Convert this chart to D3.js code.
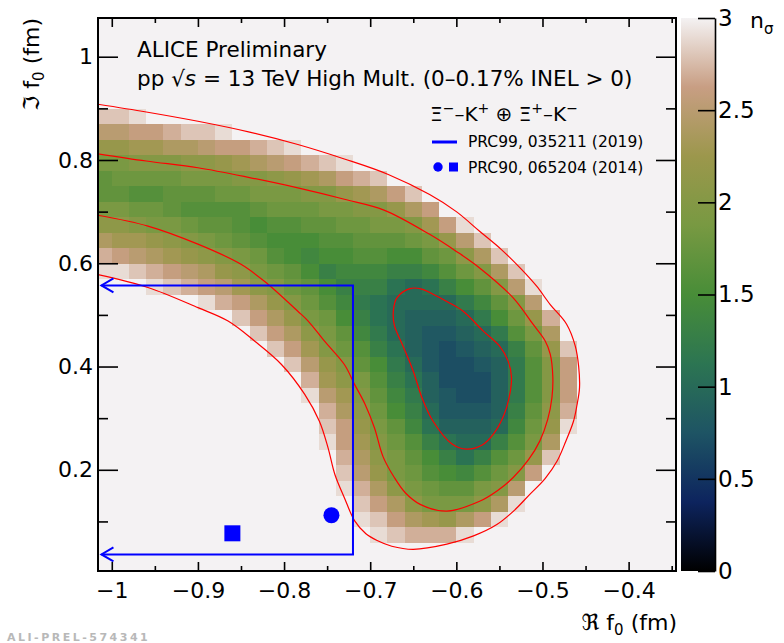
<!DOCTYPE html>
<html>
<head>
<meta charset="utf-8">
<script src="https://cdn.jsdelivr.net/npm/d3@7/dist/d3.min.js"></script>
<style>
html,body{margin:0;padding:0;background:#ffffff;}
svg{display:block;}
text{font-family:"DejaVu Sans","Liberation Sans",sans-serif;}
</style>
</head>
<body>
<svg id="chart" width="784" height="643"></svg>
<script>
// ---------------- DATA ----------------
// bin centres of the n_sigma map
const reCenters = [-1.01,-0.99,-0.97,-0.95,-0.93,-0.91,-0.89,-0.87,-0.85,-0.83,-0.81,-0.79,-0.77,-0.75,-0.73,-0.71,-0.69,-0.67,-0.65,-0.63,-0.61,-0.59,-0.57,-0.55,-0.53,-0.51,-0.49,-0.47,-0.45,-0.43,-0.41,-0.39,-0.37,-0.35];
const imCenters = [0.015,0.045,0.075,0.105,0.135,0.165,0.195,0.225,0.255,0.285,0.315,0.345,0.375,0.405,0.435,0.465,0.495,0.525,0.555,0.585,0.615,0.645,0.675,0.705,0.735,0.765,0.795,0.825,0.855,0.885,0.915,0.945,0.975,1.005,1.035,1.065];
// n_sigma values (rows follow imCenters, columns follow reCenters), clipped at 3
const nSigma = [
[3,3,3,3,3,3,3,3,3,3, 3,3,3,3,3,3,3,3,3,3, 3,3,3,3,3,3,3,3,3,3, 3,3,3,3],
[3,3,3,3,3,3,3,3,3,3, 3,3,3,3,3,3,3,3,3,3, 3,3,3,3,3,3,3,3,3,3, 3,3,3,3],
[3,3,3,3,3,3,3,3,3,3, 3,3,3,3,3,3,2.9,2.8,2.7,2.7, 2.7,2.9,3,3,3,3,3,3,3,3, 3,3,3,3],
[3,3,3,3,3,3,3,3,3,3, 3,3,3,3,3,2.9,2.8,2.6,2.4,2.3, 2.2,2.4,2.6,2.9,3,3,3,3,3,3, 3,3,3,3],
[3,3,3,3,3,3,3,3,3,3, 3,3,3,3,3,2.8,2.6,2.4,2.1,1.9, 1.9,1.9,2.1,2.4,2.9,3,3,3,3,3, 3,3,3,3],
[3,3,3,3,3,3,3,3,3,3, 3,3,3,3,2.9,2.7,2.4,2.1,1.9,1.8, 1.7,1.7,1.9,2.0,2.5,3,3,3,3,3, 3,3,3,3],
[3,3,3,3,3,3,3,3,3,3, 3,3,3,3,2.8,2.5,2.2,1.9,1.8,1.6, 1.5,1.4,1.6,1.8,2.0,2.6,3,3,3,3, 3,3,3,3],
[3,3,3,3,3,3,3,3,3,3, 3,3,3,3,2.7,2.4,2.1,1.9,1.7,1.5, 1.3,1.1,1.3,1.6,1.8,2.2,2.8,3,3,3, 3,3,3,3],
[3,3,3,3,3,3,3,3,3,3, 3,3,3,2.9,2.6,2.3,2.0,1.8,1.6,1.3, 1.1,1.0,1.0,1.3,1.6,1.9,2.4,3,3,3, 3,3,3,3],
[3,3,3,3,3,3,3,3,3,3, 3,3,3,2.8,2.6,2.2,1.9,1.7,1.4,1.1, 0.9,0.9,0.9,1.0,1.4,1.8,2.2,2.9,3,3, 3,3,3,3],
[3,3,3,3,3,3,3,3,3,3, 3,3,3,2.7,2.4,2.1,1.8,1.5,1.3,1.0, 0.8,0.8,0.8,0.9,1.3,1.7,2.1,2.7,3,3, 3,3,3,3],
[3,3,3,3,3,3,3,3,3,3, 3,3,2.9,2.5,2.3,2.0,1.7,1.4,1.2,0.9, 0.8,0.7,0.7,0.9,1.2,1.6,2.0,2.6,3,3, 3,3,3,3],
[3,3,3,3,3,3,3,3,3,3, 3,3,2.7,2.3,2.1,1.9,1.6,1.3,1.1,0.9, 0.7,0.7,0.7,0.9,1.2,1.6,2.0,2.6,3,3, 3,3,3,3],
[3,3,3,3,3,3,3,3,3,3, 3,2.8,2.5,2.2,2.0,1.7,1.5,1.2,1.0,0.8, 0.7,0.7,0.8,0.9,1.2,1.6,2.0,2.6,3,3, 3,3,3,3],
[3,3,3,3,3,3,3,3,3,3, 2.8,2.6,2.3,2.0,1.8,1.6,1.3,1.1,0.9,0.8, 0.7,0.8,0.9,1.0,1.3,1.7,2.2,2.8,3,3, 3,3,3,3],
[3,3,3,3,3,3,3,3,3,2.8, 2.6,2.4,2.1,1.9,1.7,1.4,1.2,1.0,0.9,0.8, 0.8,0.9,1.0,1.2,1.6,1.9,2.4,3,3,3, 3,3,3,3],
[3,3,3,3,3,3,3,3,2.8,2.6, 2.4,2.2,1.9,1.8,1.5,1.3,1.1,1.0,0.9,0.9, 0.9,1.0,1.2,1.5,1.8,2.2,2.7,3,3,3, 3,3,3,3],
[3,3,3,3,3,3,2.9,2.7,2.6,2.4, 2.2,2.0,1.8,1.6,1.4,1.2,1.1,1.0,1.0,1.0, 1.0,1.2,1.4,1.7,2.0,2.5,3,3,3,3, 3,3,3,3],
[3,3,3,2.9,2.8,2.7,2.6,2.5,2.3,2.1, 2.0,1.8,1.7,1.5,1.3,1.3,1.3,1.1,1.0,1.1, 1.3,1.5,1.7,2.0,2.5,2.9,3,3,3,3, 3,3,3,3],
[2.9,2.9,2.8,2.7,2.6,2.5,2.4,2.2,2.1,1.9, 1.8,1.7,1.5,1.3,1.4,1.4,1.4,1.3,1.3,1.4, 1.6,1.8,2.0,2.4,2.8,3,3,3,3,3, 3,3,3,3],
[2.7,2.6,2.5,2.4,2.3,2.2,2.1,2.0,1.9,1.8, 1.6,1.5,1.4,1.5,1.5,1.6,1.6,1.5,1.5,1.7, 1.8,2.1,2.4,2.8,3,3,3,3,3,3, 3,3,3,3],
[2.4,2.3,2.3,2.2,2.1,2.0,1.9,1.8,1.7,1.6, 1.5,1.5,1.5,1.6,1.6,1.7,1.7,1.7,1.8,1.9, 2.2,2.5,2.8,3,3,3,3,3,3,3, 3,3,3,3],
[2.1,2.1,2.0,1.9,1.9,1.8,1.7,1.7,1.6,1.5, 1.6,1.6,1.7,1.7,1.8,1.8,1.9,1.9,2.0,2.3, 2.6,2.9,3,3,3,3,3,3,3,3, 3,3,3,3],
[1.9,1.9,1.8,1.8,1.7,1.6,1.6,1.6,1.6,1.7, 1.8,1.8,1.8,1.9,1.9,2.0,2.0,2.2,2.4,2.6, 3,3,3,3,3,3,3,3,3,3, 3,3,3,3],
[1.7,1.7,1.6,1.6,1.7,1.7,1.7,1.8,1.8,1.9, 1.9,1.9,2.0,2.0,2.2,2.3,2.4,2.6,2.8,3, 3,3,3,3,3,3,3,3,3,3, 3,3,3,3],
[1.7,1.8,1.8,1.8,1.8,1.9,1.9,1.9,2.0,2.0, 2.1,2.2,2.3,2.4,2.6,2.7,2.8,3,3,3, 3,3,3,3,3,3,3,3,3,3, 3,3,3,3],
[1.9,1.9,2.0,2.0,2.0,2.1,2.1,2.2,2.3,2.4, 2.5,2.6,2.7,2.8,2.9,3,3,3,3,3, 3,3,3,3,3,3,3,3,3,3, 3,3,3,3],
[2.2,2.2,2.3,2.3,2.4,2.4,2.5,2.6,2.6,2.7, 2.8,2.9,3,3,3,3,3,3,3,3, 3,3,3,3,3,3,3,3,3,3, 3,3,3,3],
[2.5,2.5,2.6,2.6,2.7,2.8,2.8,2.9,3,3, 3,3,3,3,3,3,3,3,3,3, 3,3,3,3,3,3,3,3,3,3, 3,3,3,3],
[2.8,2.8,2.9,3,3,3,3,3,3,3, 3,3,3,3,3,3,3,3,3,3, 3,3,3,3,3,3,3,3,3,3, 3,3,3,3],
[3,3,3,3,3,3,3,3,3,3, 3,3,3,3,3,3,3,3,3,3, 3,3,3,3,3,3,3,3,3,3, 3,3,3,3],
[3,3,3,3,3,3,3,3,3,3, 3,3,3,3,3,3,3,3,3,3, 3,3,3,3,3,3,3,3,3,3, 3,3,3,3],
[3,3,3,3,3,3,3,3,3,3, 3,3,3,3,3,3,3,3,3,3, 3,3,3,3,3,3,3,3,3,3, 3,3,3,3],
[3,3,3,3,3,3,3,3,3,3, 3,3,3,3,3,3,3,3,3,3, 3,3,3,3,3,3,3,3,3,3, 3,3,3,3],
[3,3,3,3,3,3,3,3,3,3, 3,3,3,3,3,3,3,3,3,3, 3,3,3,3,3,3,3,3,3,3, 3,3,3,3],
[3,3,3,3,3,3,3,3,3,3, 3,3,3,3,3,3,3,3,3,3, 3,3,3,3,3,3,3,3,3,3, 3,3,3,3]
];
// contour lines [Re f0, Im f0]
const contour3Sigma = [[-1.016,0.908],[-0.960,0.893],[-0.900,0.875],[-0.840,0.854],[-0.784,0.830],[-0.730,0.802],[-0.679,0.772],[-0.631,0.733],[-0.600,0.700],[-0.573,0.662],[-0.548,0.627],[-0.526,0.591],[-0.507,0.556],[-0.491,0.520],[-0.472,0.482],[-0.462,0.440],[-0.458,0.400],[-0.457,0.359],[-0.460,0.325],[-0.464,0.294],[-0.473,0.255],[-0.483,0.217],[-0.497,0.183],[-0.515,0.152],[-0.533,0.121],[-0.553,0.094],[-0.580,0.072],[-0.611,0.056],[-0.650,0.046],[-0.675,0.052],[-0.692,0.063],[-0.705,0.076],[-0.718,0.101],[-0.730,0.146],[-0.741,0.191],[-0.749,0.243],[-0.759,0.294],[-0.776,0.346],[-0.803,0.404],[-0.834,0.449],[-0.865,0.488],[-0.900,0.514],[-0.958,0.553],[-1.016,0.578]];
const contour2Sigma = [[-1.016,0.812],[-0.960,0.798],[-0.900,0.785],[-0.840,0.766],[-0.784,0.746],[-0.730,0.724],[-0.684,0.703],[-0.631,0.656],[-0.600,0.623],[-0.573,0.591],[-0.534,0.533],[-0.511,0.482],[-0.497,0.450],[-0.491,0.424],[-0.488,0.380],[-0.489,0.340],[-0.494,0.297],[-0.503,0.256],[-0.516,0.220],[-0.534,0.185],[-0.552,0.160],[-0.573,0.139],[-0.611,0.120],[-0.642,0.133],[-0.659,0.155],[-0.672,0.185],[-0.685,0.225],[-0.695,0.281],[-0.706,0.327],[-0.718,0.365],[-0.730,0.404],[-0.753,0.449],[-0.772,0.488],[-0.784,0.507],[-0.819,0.560],[-0.850,0.598],[-0.900,0.637],[-0.958,0.672],[-1.016,0.693]];
const contour1Sigma = [[-0.669,0.533],[-0.654,0.551],[-0.640,0.550],[-0.627,0.540],[-0.610,0.525],[-0.592,0.507],[-0.569,0.469],[-0.550,0.440],[-0.540,0.411],[-0.536,0.380],[-0.538,0.346],[-0.545,0.305],[-0.557,0.269],[-0.570,0.248],[-0.588,0.240],[-0.605,0.250],[-0.627,0.294],[-0.640,0.340],[-0.650,0.391],[-0.662,0.440],[-0.672,0.480],[-0.673,0.510]];
// theory predictions
const prc99ReLimit = -0.72;            // PRC99 region: Re f0 < -0.72
const prc99ImRange = [0.036, 0.557];   // Im f0 bounds of the region
const prc99ArrowRe = -1.012;
const prc90Circle = [-0.745, 0.112];
const prc90Square = [-0.860, 0.077];
// ticks
const xMajorTicks = [-1,-0.9,-0.8,-0.7,-0.6,-0.5,-0.4];
const xMinorTicks = [-0.95,-0.85,-0.75,-0.65,-0.55,-0.45,-0.35];
const yMajorTicks = [0.2,0.4,0.6,0.8,1.0];
const yMinorTicks = [0.1,0.3,0.5,0.7,0.9];
const zTicks = [0,0.5,1,1.5,2,2.5,3];
// palette (gist earth)
const paletteStops = [0,0.375,0.75,1.125,1.5,1.875,2.25,2.625,3];
const paletteColors = ["rgb(0,0,0)","rgb(13,36,94)","rgb(30,84,100)","rgb(44,117,82)","rgb(72,141,56)","rgb(120,153,66)","rgb(156,151,76)","rgb(200,158,131)","rgb(244,242,243)"];

// ---------------- DRAW ----------------
const svg = d3.select("#chart");
const plot = {left:98, right:676, top:18, bottom:571};
const x = d3.scaleLinear().domain([-1.016,-0.345]).range([plot.left, plot.right]);
const y = d3.scaleLinear().domain([0.004,1.075]).range([plot.bottom, plot.top]);
const z = d3.scaleLinear().domain([0,3]).range([plot.bottom, plot.top]);
const color = d3.scaleLinear().domain(paletteStops).range(paletteColors).clamp(true);
const FONT = '"DejaVu Sans","Liberation Sans",sans-serif';

const defs = svg.append("defs");
defs.append("clipPath").attr("id","plotclip").append("rect")
  .attr("x",plot.left).attr("y",plot.top)
  .attr("width",plot.right-plot.left).attr("height",plot.bottom-plot.top);

svg.append("rect").attr("x",0).attr("y",0).attr("width",784).attr("height",643).attr("fill","#ffffff");
svg.append("rect").attr("x",plot.left).attr("y",plot.top)
  .attr("width",plot.right-plot.left).attr("height",plot.bottom-plot.top)
  .attr("fill",color(3));

// heat map
const dRe = reCenters[1]-reCenters[0];
const dIm = imCenters[1]-imCenters[0];
const cells = [];
nSigma.forEach((row,i)=>row.forEach((v,j)=>cells.push({re:reCenters[j], im:imCenters[i], v:v})));
const gHeat = svg.append("g").attr("clip-path","url(#plotclip)");
gHeat.selectAll("rect").data(cells).join("rect")
  .attr("x", d=>x(d.re-dRe/2))
  .attr("y", d=>y(d.im+dIm/2))
  .attr("width", d=>x(d.re+dRe/2)-x(d.re-dRe/2)+0.6)
  .attr("height", d=>y(d.im-dIm/2)-y(d.im+dIm/2)+0.6)
  .attr("fill", d=>color(d.v))
  .attr("shape-rendering","crispEdges");

// contours
const gCont = svg.append("g").attr("clip-path","url(#plotclip)");
const lineOpen = d3.line().x(d=>x(d[0])).y(d=>y(d[1])).curve(d3.curveCatmullRom.alpha(0.5));
const lineClosed = d3.line().x(d=>x(d[0])).y(d=>y(d[1])).curve(d3.curveCatmullRomClosed.alpha(0.5));
[contour3Sigma, contour2Sigma].forEach(c=>{
  gCont.append("path").attr("d", lineOpen(c)).attr("fill","none").attr("stroke","#ff0000").attr("stroke-width",1.2);
});
gCont.append("path").attr("d", lineClosed(contour1Sigma)).attr("fill","none").attr("stroke","#ff0000").attr("stroke-width",1.2);

// PRC99 region
const blue = "#0000ff";
const gBlue = svg.append("g").attr("clip-path","url(#plotclip)");
const regionPts = [[prc99ArrowRe, prc99ImRange[1]],[prc99ReLimit, prc99ImRange[1]],[prc99ReLimit, prc99ImRange[0]],[prc99ArrowRe, prc99ImRange[0]]];
gBlue.append("path").attr("d", d3.line().x(d=>x(d[0])).y(d=>y(d[1]))(regionPts))
  .attr("fill","none").attr("stroke",blue).attr("stroke-width",2);
[prc99ImRange[1], prc99ImRange[0]].forEach(im=>{
  const tx = x(prc99ArrowRe), ty = y(im);
  gBlue.append("path").attr("d", `M${tx+12},${ty-7}L${tx},${ty}L${tx+12},${ty+7}`)
    .attr("fill","none").attr("stroke",blue).attr("stroke-width",2);
});
// PRC90 markers
svg.append("circle").attr("cx",x(prc90Circle[0])).attr("cy",y(prc90Circle[1])).attr("r",8).attr("fill",blue);
svg.append("rect").attr("x",x(prc90Square[0])-8).attr("y",y(prc90Square[1])-8).attr("width",16).attr("height",16).attr("fill",blue);

// texts
svg.append("text").attr("x",137).attr("y",57).attr("font-size",21.5).attr("fill","#000").text("ALICE Preliminary");
const t2 = svg.append("text").attr("x",137).attr("y",86).attr("font-size",21.5).attr("fill","#000");
t2.append("tspan").text("pp \u221A");
t2.append("tspan").attr("font-style","italic").text("s");
t2.append("tspan").text(" = 13 TeV High Mult. (0\u20130.17% INEL > 0)");

const t3 = svg.append("text").attr("x",430).attr("y",121).attr("font-size",20).attr("fill","#000");
const sup = (txt)=>{ t3.append("tspan").attr("dy",-8).attr("font-size",14).text(txt); };
const base = (txt)=>{ t3.append("tspan").attr("dy",8).text(txt); };
t3.append("tspan").text("\u039E"); sup("\u2212"); base("\u2013K"); sup("+"); base(" \u2295 \u039E"); sup("+"); base("\u2013K"); sup("\u2212");

// legend
svg.append("line").attr("x1",432).attr("x2",457).attr("y1",142).attr("y2",142).attr("stroke",blue).attr("stroke-width",3);
svg.append("text").attr("x",468).attr("y",147).attr("font-size",15.5).attr("fill","#000").text("PRC99, 035211 (2019)");
svg.append("circle").attr("cx",438).attr("cy",167).attr("r",4.7).attr("fill",blue);
svg.append("rect").attr("x",449).attr("y",162.5).attr("width",9).attr("height",9).attr("fill",blue);
svg.append("text").attr("x",468).attr("y",172.5).attr("font-size",15.5).attr("fill","#000").text("PRC90, 065204 (2014)");

// axes
const fmt = d3.format("~g");
function styleAxis(g, fs){
  g.select(".domain").remove();
  g.selectAll(".tick line").attr("stroke","#000").attr("stroke-width",1.6);
  g.selectAll(".tick text").attr("fill","#000");
  g.attr("font-family",FONT).attr("font-size",fs);
}
svg.append("g").attr("transform",`translate(0,${plot.bottom})`)
  .call(d3.axisBottom(x).tickValues(xMajorTicks).tickSizeInner(-9).tickSizeOuter(0).tickPadding(11).tickFormat(fmt))
  .call(g=>styleAxis(g,22));
svg.append("g").attr("transform",`translate(0,${plot.bottom})`)
  .call(d3.axisBottom(x).tickValues(xMinorTicks).tickSizeInner(-5).tickSizeOuter(0).tickFormat(()=>""))
  .call(g=>styleAxis(g,22));
svg.append("g").attr("transform",`translate(0,${plot.top})`)
  .call(d3.axisTop(x).tickValues(xMajorTicks).tickSizeInner(-9).tickSizeOuter(0).tickFormat(()=>""))
  .call(g=>styleAxis(g,22));
svg.append("g").attr("transform",`translate(0,${plot.top})`)
  .call(d3.axisTop(x).tickValues(xMinorTicks).tickSizeInner(-5).tickSizeOuter(0).tickFormat(()=>""))
  .call(g=>styleAxis(g,22));
svg.append("g").attr("transform",`translate(${plot.left},0)`)
  .call(d3.axisLeft(y).tickValues(yMajorTicks).tickSizeInner(-20).tickSizeOuter(0).tickPadding(5).tickFormat(fmt))
  .call(g=>styleAxis(g,22));
svg.append("g").attr("transform",`translate(${plot.left},0)`)
  .call(d3.axisLeft(y).tickValues(yMinorTicks).tickSizeInner(-10).tickSizeOuter(0).tickFormat(()=>""))
  .call(g=>styleAxis(g,22));
svg.append("g").attr("transform",`translate(${plot.right},0)`)
  .call(d3.axisRight(y).tickValues(yMajorTicks).tickSizeInner(-20).tickSizeOuter(0).tickFormat(()=>""))
  .call(g=>styleAxis(g,22));
svg.append("g").attr("transform",`translate(${plot.right},0)`)
  .call(d3.axisRight(y).tickValues(yMinorTicks).tickSizeInner(-10).tickSizeOuter(0).tickFormat(()=>""))
  .call(g=>styleAxis(g,22));

// frame
svg.append("rect").attr("x",plot.left).attr("y",plot.top)
  .attr("width",plot.right-plot.left).attr("height",plot.bottom-plot.top)
  .attr("fill","none").attr("stroke","#000").attr("stroke-width",2);

// axis titles
const xt = svg.append("text").attr("x",677).attr("y",630).attr("text-anchor","end").attr("font-size",22).attr("fill","#000");
xt.append("tspan").text("\u211C f");
xt.append("tspan").attr("dy",5).attr("font-size",15).text("0");
xt.append("tspan").attr("dy",-5).text(" (fm)");
const yt = svg.append("text").attr("transform","translate(39,18) rotate(-90)").attr("text-anchor","end").attr("font-size",22).attr("fill","#000");
yt.append("tspan").text("\u2111 f");
yt.append("tspan").attr("dy",5).attr("font-size",15).text("0");
yt.append("tspan").attr("dy",-5).text(" (fm)");

// colour bar
const cb = {left:681, right:715};
const grad = defs.append("linearGradient").attr("id","pal").attr("x1",0).attr("y1",1).attr("x2",0).attr("y2",0);
paletteStops.forEach((s,i)=>grad.append("stop").attr("offset",s/3).attr("stop-color",paletteColors[i]));
svg.append("rect").attr("x",cb.left).attr("y",z(3)).attr("width",cb.right-cb.left).attr("height",z(0)-z(3)).attr("fill","url(#pal)");
svg.append("g").attr("transform",`translate(${cb.right},0)`)
  .call(d3.axisRight(z).tickValues(zTicks).tickSizeInner(-17).tickSizeOuter(0).tickPadding(3).tickFormat(fmt))
  .call(g=>{
    g.select(".domain").attr("stroke","#000").attr("stroke-width",1.6);
    g.selectAll(".tick line").attr("stroke","#000").attr("stroke-width",1.6);
    g.selectAll(".tick text").attr("fill","#000");
    g.attr("font-family",FONT).attr("font-size",23);
  });
const nt = svg.append("text").attr("x",750).attr("y",28).attr("font-size",22).attr("fill","#000");
nt.append("tspan").text("n");
nt.append("tspan").attr("dy",6).attr("font-size",15).text("\u03C3");

// preliminary id
svg.append("text").attr("x",7).attr("y",641).attr("font-size",11).attr("font-weight","bold")
  .attr("letter-spacing",2.5).attr("fill","#b8b8b8").text("ALI-PREL-574341");
</script>
</body>
</html>
